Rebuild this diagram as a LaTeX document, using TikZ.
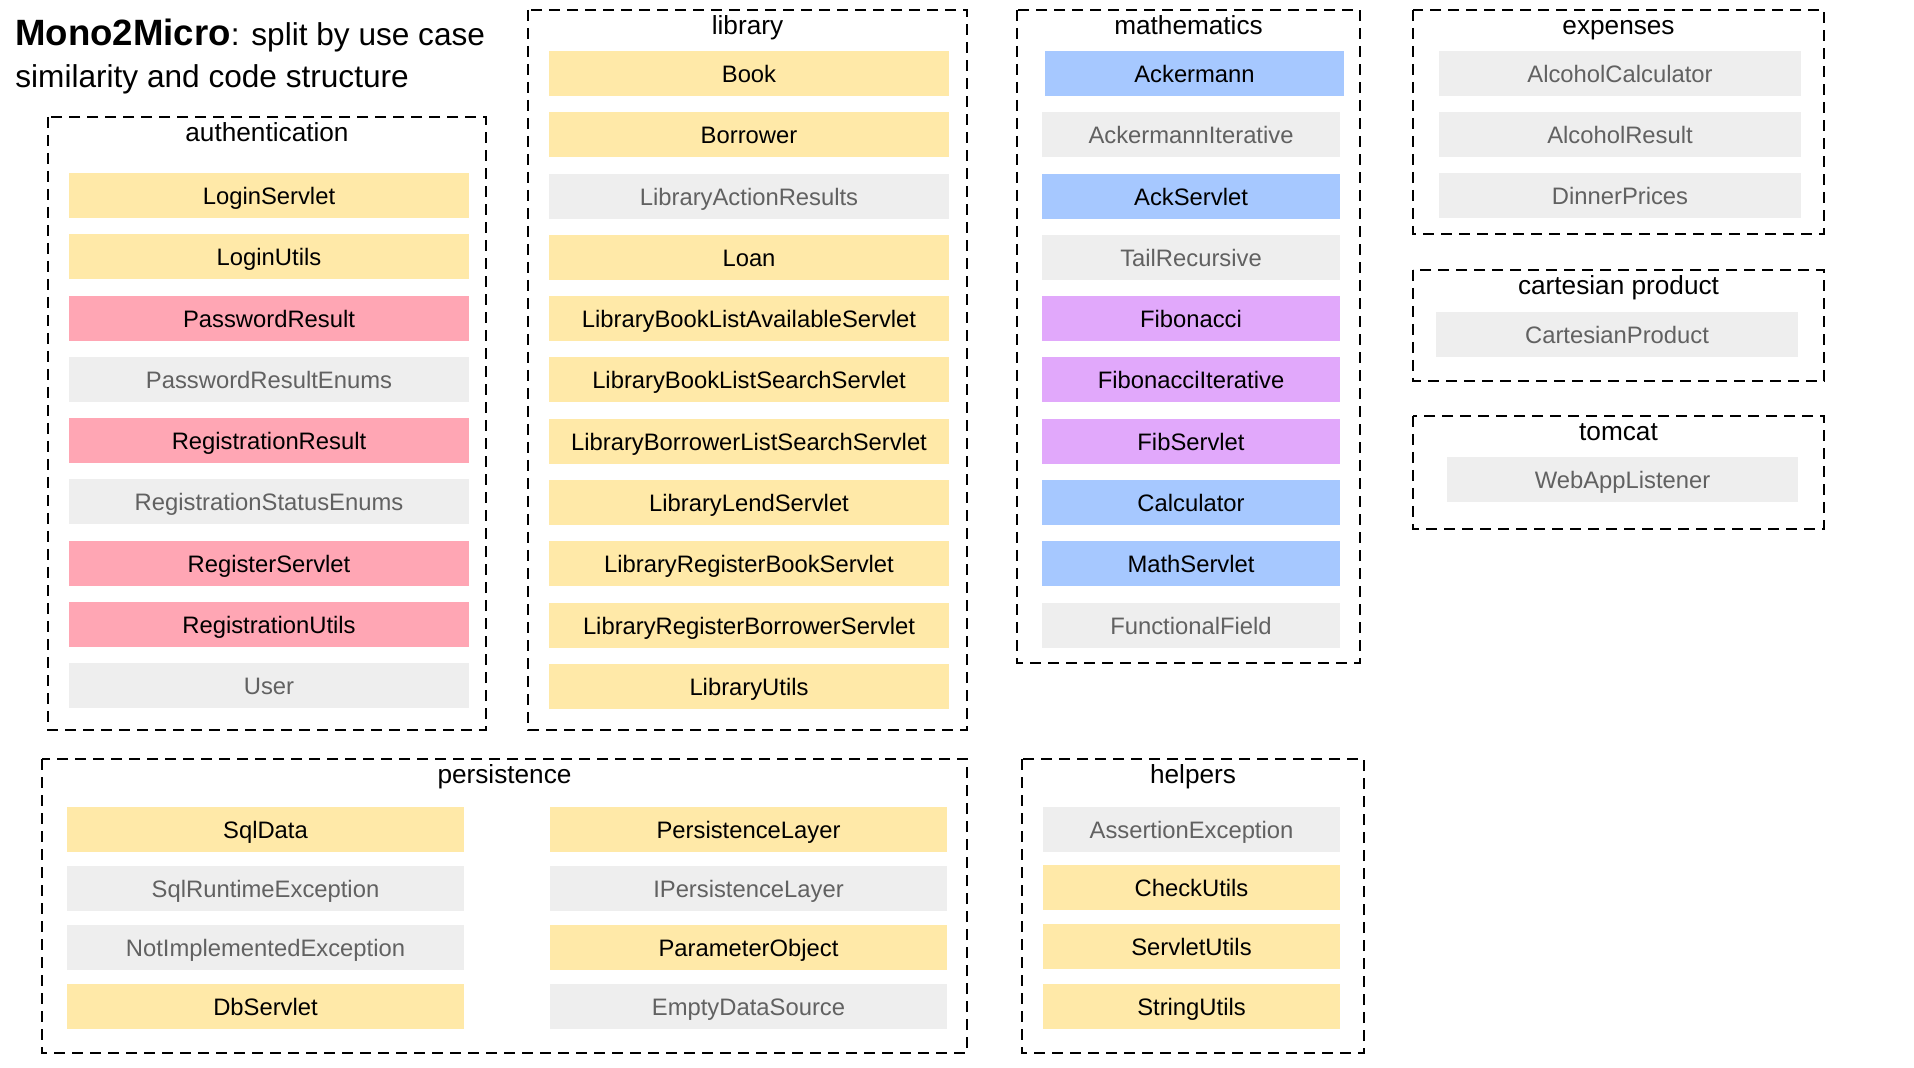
\documentclass[tikz,border=0pt]{standalone}
\usepackage{fontspec}
\setmainfont{Liberation Sans}
\definecolor{cyel}{HTML}{FFE9A8}
\definecolor{cpink}{HTML}{FFA6B4}
\definecolor{cblue}{HTML}{A6C8FF}
\definecolor{cpurple}{HTML}{E1A8FB}
\definecolor{cgray}{HTML}{EEEEEE}
\definecolor{cgraytext}{HTML}{616161}
\tikzset{
  cbox/.style={inner sep=0pt, outer sep=0pt, text height=0.9em, text depth=0pt,
    font=\fontsize{11.9}{14}\selectfont},
  yel/.style={cbox, fill=cyel, text=black},
  pink/.style={cbox, fill=cpink, text=black},
  blue/.style={cbox, fill=cblue, text=black},
  purple/.style={cbox, fill=cpurple, text=black},
  gray/.style={cbox, fill=cgray, text=cgraytext},
  groupbox/.style={draw=black, line width=1pt, dash pattern=on 5.5pt off 3.5pt},
  grouplabel/.style={inner sep=0pt, text height=0.86em, text depth=0pt,
    font=\fontsize{13.1}{15}\selectfont},
}
% \classbox{name}{left}{right}{top}{height}{style}{text}
\newcommand\classbox[7]{%
  \node[#6, minimum width={(#3-#2)*0.5pt}, minimum height={(#5)*0.5pt}]
    (#1) at ({(#2+#3)/2},{#4+(#5)/2}) {#7};}
\begin{document}
\begin{tikzpicture}[x=0.5pt, y=-0.5pt]
\useasboundingbox (0,0) rectangle (1914,1068);

% heading
\node[anchor=base west, inner sep=0pt] (title1) at (15,46)
  {\fontsize{18.3}{21}\selectfont\bfseries Mono2Micro\fontsize{15.8}{18}\selectfont\mdseries: split by use case};
\node[anchor=base west, inner sep=0pt] (title2) at (15,88)
  {\fontsize{15.8}{18}\selectfont similarity and code structure};

% group frames
\draw[groupbox] (48,117) rectangle (486,730);
\node[grouplabel] (lauth) at (267,133) {authentication};
\draw[groupbox] (528,10) rectangle (967,730);
\node[grouplabel] (llib) at (747.5,26) {library};
\draw[groupbox] (1017,10) rectangle (1360,663);
\node[grouplabel] (lmath) at (1188.5,26) {mathematics};
\draw[groupbox] (1413,10) rectangle (1824,234);
\node[grouplabel] (lexp) at (1618.5,26) {expenses};
\draw[groupbox] (1413,270) rectangle (1824,381);
\node[grouplabel] (lcart) at (1618.5,286) {cartesian product};
\draw[groupbox] (1413,416) rectangle (1824,529);
\node[grouplabel] (ltom) at (1618.5,432) {tomcat};
\draw[groupbox] (42,759) rectangle (967,1053);
\node[grouplabel] (lpers) at (504.5,775) {persistence};
\draw[groupbox] (1022,759) rectangle (1364,1053);
\node[grouplabel] (lhelp) at (1193,775) {helpers};

% authentication
\foreach \s/\t [count=\i from 0] in {yel/LoginServlet, yel/LoginUtils, pink/PasswordResult,
  gray/PasswordResultEnums, pink/RegistrationResult, gray/RegistrationStatusEnums,
  pink/RegisterServlet, pink/RegistrationUtils, gray/User}
  {\classbox{auth\i}{69}{469}{173+\i*61.3}{45}{\s}{\t}}

% library
\foreach \s/\t [count=\i from 0] in {yel/Book, yel/Borrower, gray/LibraryActionResults, yel/Loan,
  yel/LibraryBookListAvailableServlet, yel/LibraryBookListSearchServlet,
  yel/LibraryBorrowerListSearchServlet, yel/LibraryLendServlet,
  yel/LibraryRegisterBookServlet, yel/LibraryRegisterBorrowerServlet, yel/LibraryUtils}
  {\classbox{lib\i}{549}{949}{51+\i*61.3}{45}{\s}{\t}}

% mathematics
\classbox{math0}{1045}{1344}{51}{45}{blue}{Ackermann}
\foreach \s/\t [count=\i from 1] in {gray/AckermannIterative, blue/AckServlet, gray/TailRecursive,
  purple/Fibonacci, purple/FibonacciIterative, purple/FibServlet, blue/Calculator,
  blue/MathServlet, gray/FunctionalField}
  {\classbox{math\i}{1042}{1340}{51+\i*61.3}{45}{\s}{\t}}

% expenses, cartesian product, tomcat
\classbox{exp0}{1439}{1801}{51}{45}{gray}{AlcoholCalculator}
\classbox{exp1}{1439}{1801}{112}{45}{gray}{AlcoholResult}
\classbox{exp2}{1439}{1801}{173}{45}{gray}{DinnerPrices}
\classbox{cart0}{1436}{1798}{312}{45}{gray}{CartesianProduct}
\classbox{tom0}{1447}{1798}{457}{45}{gray}{WebAppListener}

% persistence
\classbox{pers0}{67}{464}{807}{45}{yel}{SqlData}
\classbox{pers1}{67}{464}{866}{45}{gray}{SqlRuntimeException}
\classbox{pers2}{67}{464}{925}{45}{gray}{NotImplementedException}
\classbox{pers3}{67}{464}{984}{45}{yel}{DbServlet}
\classbox{pers4}{550}{947}{807}{45}{yel}{PersistenceLayer}
\classbox{pers5}{550}{947}{866}{45}{gray}{IPersistenceLayer}
\classbox{pers6}{550}{947}{925}{45}{yel}{ParameterObject}
\classbox{pers7}{550}{947}{984}{45}{gray}{EmptyDataSource}

% helpers
\classbox{help0}{1043}{1340}{807}{45}{gray}{AssertionException}
\classbox{help1}{1043}{1340}{865}{45}{yel}{CheckUtils}
\classbox{help2}{1043}{1340}{924}{45}{yel}{ServletUtils}
\classbox{help3}{1043}{1340}{984}{45}{yel}{StringUtils}
\end{tikzpicture}
\end{document}
